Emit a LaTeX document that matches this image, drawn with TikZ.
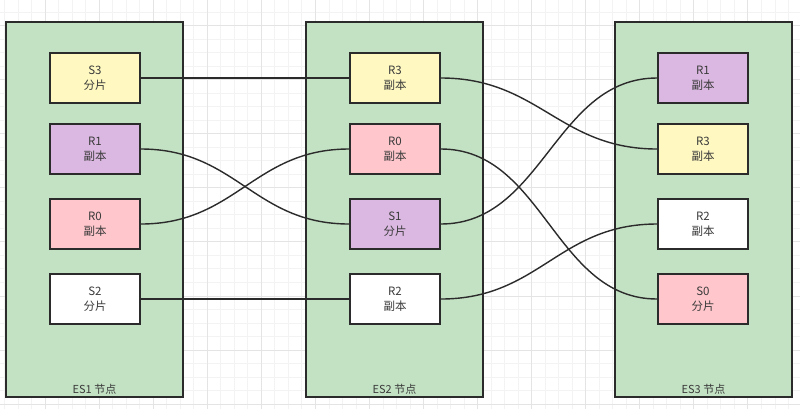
\documentclass[tikz,border=0pt]{standalone}
\usepackage{fontspec}
\setmainfont{Noto Sans CJK SC}
\definecolor{gridminor}{HTML}{F3F3F3}
\definecolor{gridmajor}{HTML}{E4E4E4}
\definecolor{nodegreen}{HTML}{C3E1C3}
\definecolor{shardyellow}{HTML}{FFF9C1}
\definecolor{shardpurple}{HTML}{DBB8E1}
\definecolor{shardpink}{HTML}{FFC7CC}
\definecolor{linedark}{HTML}{2B2B2B}
\definecolor{textdark}{HTML}{3A3A3A}
\tikzset{
  esnode/.style={draw=linedark, line width=1.8bp, fill=nodegreen, minimum width=177bp, minimum height=375bp, inner sep=0pt},
  shard/.style={draw=linedark, line width=1.8bp, minimum width=90bp, minimum height=50bp, inner sep=0pt, align=center,
     text=textdark, font=\fontsize{11.5bp}{15bp}\selectfont},
  eslabel/.style={text=textdark, font=\fontsize{11bp}{13bp}\selectfont, inner sep=0pt},
  link/.style={draw=linedark, line width=1.4bp},
}
\begin{document}
\begin{tikzpicture}[x=1bp,y=-1bp]
\useasboundingbox (0,0) rectangle (800,409);
\fill[white] (0,0) rectangle (800,409);
% grid
\foreach \k in {-3,...,56} {\draw[gridminor, line width=0.8bp] ({45.1+13.515*\k},0) -- ({45.1+13.515*\k},409);}
\foreach \k in {-1,...,28} {\draw[gridminor, line width=0.8bp] (0,{25.6+13.515*\k}) -- (800,{25.6+13.515*\k});}
\foreach \k in {0,...,13} {\draw[gridmajor, line width=0.8bp] ({45.1+54.06*\k},0) -- ({45.1+54.06*\k},409);}
\foreach \k in {0,...,7} {\draw[gridmajor, line width=0.8bp] (0,{25.6+54.06*\k}) -- (800,{25.6+54.06*\k});}
% containers
\node[esnode] (es1) at (94.5,209.5) {};
\node[esnode] (es2) at (394.5,209.5) {};
\node[esnode] (es3) at (703.5,209.5) {};
\node[eslabel] (l1) at (94.5,389) {ES1 节点};
\node[eslabel] (l2) at (394.5,389) {ES2 节点};
\node[eslabel] (l3) at (703.5,389) {ES3 节点};
% shards (positions)
\coordinate (p1a) at (95,78);  \coordinate (p1b) at (95,149);  \coordinate (p1c) at (95,224);  \coordinate (p1d) at (95,299);
\coordinate (p2a) at (395,78); \coordinate (p2b) at (395,149); \coordinate (p2c) at (395,224); \coordinate (p2d) at (395,299);
\coordinate (p3a) at (703,78); \coordinate (p3b) at (703,149); \coordinate (p3c) at (703,224); \coordinate (p3d) at (703,299);
\node[shard, fill=shardyellow] (a3) at (p1a) {S3\\分片};
\node[shard, fill=shardpurple] (a1) at (p1b) {R1\\副本};
\node[shard, fill=shardpink] (a0) at (p1c) {R0\\副本};
\node[shard, fill=white] (a2) at (p1d) {S2\\分片};
\node[shard, fill=shardyellow] (b3) at (p2a) {R3\\副本};
\node[shard, fill=shardpink] (b0) at (p2b) {R0\\副本};
\node[shard, fill=shardpurple] (b1) at (p2c) {S1\\分片};
\node[shard, fill=white] (b2) at (p2d) {R2\\副本};
\node[shard, fill=shardpurple] (c1) at (p3a) {R1\\副本};
\node[shard, fill=shardyellow] (c3) at (p3b) {R3\\副本};
\node[shard, fill=white] (c2) at (p3c) {R2\\副本};
\node[shard, fill=shardpink] (c0) at (p3d) {S0\\分片};
% connectors
\draw[link] (a3.east) -- (b3.west);
\draw[link] (a2.east) -- (b2.west);
\draw[link] (a1.east) to[out=0,in=180,looseness=1.1] (b1.west);
\draw[link] (a0.east) to[out=0,in=180,looseness=1.1] (b0.west);
\draw[link] (b3.east) to[out=0,in=180,looseness=1.1] (c3.west);
\draw[link] (b0.east) to[out=0,in=180,looseness=1] (c0.west);
\draw[link] (b1.east) to[out=0,in=180,looseness=1] (c1.west);
\draw[link] (b2.east) to[out=0,in=180,looseness=1.1] (c2.west);
\end{tikzpicture}
\end{document}
